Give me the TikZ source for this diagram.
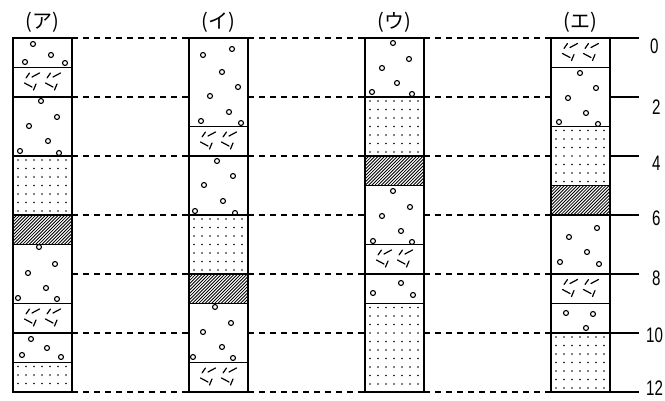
\documentclass[tikz,border=0pt]{standalone}
\usepackage{fontspec}
\newfontfamily\jpfont{Noto Sans CJK JP}
\newfontfamily\numfont[FakeStretch=0.72]{Liberation Sans}

\newcommand{\colwd}{59}

% dotted sand layer: #1 left x, #2 top depth, #3 bottom depth
\newcommand{\sandlayer}[3]{%
  \pgfmathsetmacro\sya{38+29.5*#2}%
  \pgfmathsetmacro\syb{38+29.5*#3}%
  \pgfmathtruncatemacro\snr{floor((\syb-\sya-6)/8.5)}%
  \foreach \ci in {0,...,6}{%
    \foreach \cj in {0,...,\snr}{%
      \fill (#1+5+8*\ci, \sya+4+8.5*\cj) circle (0.8);
    }%
  }%
}
% hatched mudstone layer
\newcommand{\mudlayer}[3]{%
  \pgfmathsetmacro\mya{38+29.5*#2}%
  \pgfmathsetmacro\myb{38+29.5*#3}%
  \begin{scope}
    \clip (#1,\mya) rectangle (#1+\colwd,\myb);
    \foreach \k in {-13,...,19}{\draw[hatch] (#1+\k*3.2,\myb) -- ++(40,-40);}
  \end{scope}%
}
% volcanic ash layer: two marks
\newcommand{\ashlayer}[2]{%
  \pgfmathsetmacro\ayc{38+29.5*#2+13}%
  \pic at (#1+19,\ayc) {ashmark};
  \pic at (#1+40,\ayc) {ashmark};%
}

\tikzset{
  bed/.style={line width=1.3pt},
  guide/.style={line width=1.1pt, dash pattern=on 6pt off 5pt},
  hatch/.style={line width=0.85pt},
  pebble/.style={line width=1.1pt},
  ashline/.style={line width=1.2pt, line cap=round},
  ashmark/.pic={
    \draw[ashline] (-6,-2.5) -- (-2.5,-7.5) (0,-3.5) -- (7.5,-7.5)
                   (-7.5,2.5) -- (0,6.5) (4,3.5) -- (1.5,9.5);
  },
  colhead/.style={font=\jpfont\fontsize{20}{20}\selectfont, inner sep=0pt},
  depthlbl/.style={font=\numfont\fontsize{21}{21}\selectfont, inner sep=0pt, anchor=west},
}

\begin{document}
\begin{tikzpicture}[x=1pt,y=-1pt]
\useasboundingbox (0,0) rectangle (665,400);

% ---------- column (ア) ----------
\sandlayer{13}{4}{6}
\sandlayer{13}{11}{12}
\mudlayer{13}{6}{7}
\ashlayer{13}{1}
\ashlayer{13}{9}
\foreach \p in {(33,44),(51,55),(25,62),(65,63),(41,101),(57,117),(29,126),(48,141),(20,151),(59,153),(39,247),(55,264),(28,273),(46,288),(18,298),(57,299),(31,339),(47,348),(22,355),(61,357)}
  \draw[pebble] \p circle (2.5);
\draw[bed] (13,38) rectangle (72,392);
\foreach \d in {1,2,4,6,7,9,10,11} \draw[bed] (13,{38+29.5*\d}) -- (72,{38+29.5*\d});

% ---------- column (イ) ----------
\sandlayer{189}{6}{8}
\mudlayer{189}{8}{9}
\ashlayer{189}{3}
\ashlayer{189}{11}
\foreach \p in {(203,55),(232,49),(222,72),(238,87),(210,96),(229,112),(201,121),(241,123),(217,161),(233,176),(204,185),(223,201),(195,211),(235,213),(215,307),(231,323),(203,332),(222,347),(193,357),(233,358)}
  \draw[pebble] \p circle (2.5);
\draw[bed] (189,38) rectangle (248,392);
\foreach \d in {3,4,6,8,9,11} \draw[bed] (189,{38+29.5*\d}) -- (248,{38+29.5*\d});

% ---------- column (ウ) ----------
\sandlayer{365}{2}{4}
\sandlayer{365}{9}{12}
\mudlayer{365}{4}{5}
\ashlayer{365}{7}
\foreach \p in {(393,43),(409,59),(382,68),(397,83),(372,92),(412,94),(393,191),(410,207),(382,216),(401,231),(373,241),(412,242),(401,283),(373,293),(413,295)}
  \draw[pebble] \p circle (2.5);
\draw[bed] (365,38) rectangle (424,392);
\foreach \d in {2,4,5,7,8,9} \draw[bed] (365,{38+29.5*\d}) -- (424,{38+29.5*\d});

% ---------- column (エ) ----------
\sandlayer{551}{3}{5}
\sandlayer{551}{10}{12}
\mudlayer{551}{5}{6}
\ashlayer{551}{0}
\ashlayer{551}{8}
\foreach \p in {(580,73),(596,88),(568,98),(586,113),(559,122),(598,124),(597,228),(569,237),(587,252),(560,262),(599,264),(566,313),(593,314),(586,328)}
  \draw[pebble] \p circle (2.5);
\draw[bed] (551,38) rectangle (610,392);
\foreach \d in {1,3,5,6,8,9,10} \draw[bed] (551,{38+29.5*\d}) -- (610,{38+29.5*\d});

% ---------- column edges at even depths ----------
\foreach \d in {0,2,...,12}{
  \coordinate (A-r-\d) at (72,{38+29.5*\d});
  \coordinate (B-l-\d) at (189,{38+29.5*\d});
  \coordinate (B-r-\d) at (248,{38+29.5*\d});
  \coordinate (C-l-\d) at (365,{38+29.5*\d});
  \coordinate (C-r-\d) at (424,{38+29.5*\d});
  \coordinate (D-l-\d) at (551,{38+29.5*\d});
  \coordinate (D-r-\d) at (610,{38+29.5*\d});
  \coordinate (S-\d) at (639,{38+29.5*\d});
}
% correlation lines
\foreach \d in {0,2,...,12}{
  \draw[guide] (A-r-\d) -- (B-l-\d);
  \draw[guide] (B-r-\d) -- (C-l-\d);
  \draw[guide] (C-r-\d) -- (D-l-\d);
  \draw[bed] (D-r-\d) -- (S-\d);
}

% depth scale
\node[depthlbl] (n0) at (650,46) {0};
\node[depthlbl] (n2) at (652,107) {2};
\node[depthlbl] (n4) at (652,163) {4};
\node[depthlbl] (n6) at (652,218) {6};
\node[depthlbl] (n8) at (652,278) {8};
\node[depthlbl] (n10) at (646,335) {10};
\node[depthlbl] (n12) at (646,388) {12};

% column headings
\node[colhead] (hA) at (42.5,22) {(ア)};
\node[colhead] (hB) at (218.5,22) {(イ)};
\node[colhead] (hC) at (394.5,22) {(ウ)};
\node[colhead] (hD) at (580.5,22) {(エ)};
\end{tikzpicture}
\end{document}
